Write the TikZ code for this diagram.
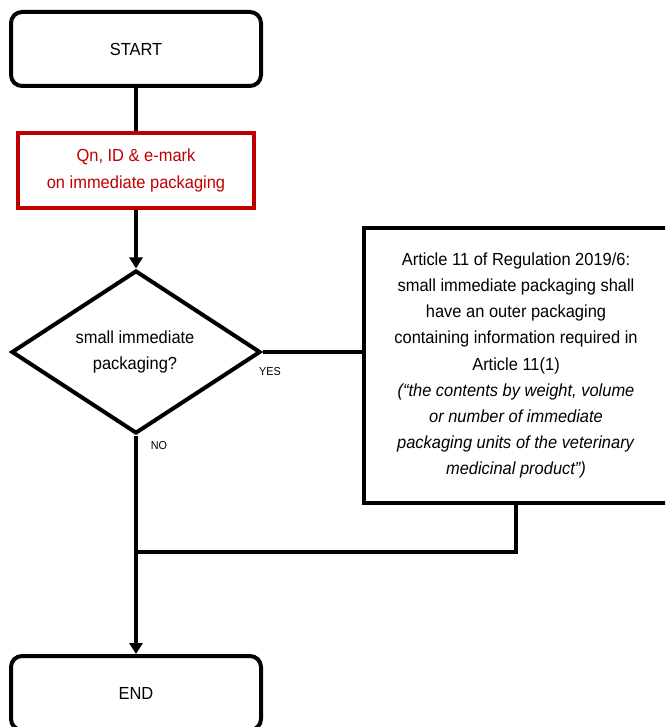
\documentclass[tikz,border=0pt]{standalone}
\usepackage{fontspec}
\setmainfont{Liberation Sans}[FakeStretch=0.94]
\usetikzlibrary{shapes.geometric,arrows.meta}
\definecolor{darkred}{HTML}{C00000}
\begin{document}
\begin{tikzpicture}[x=1pt,y=-1pt,
  every node/.style={font=\fontsize{17.5}{26.2}\selectfont, align=center, inner sep=0pt},
  term/.style={draw, line width=4pt, rounded corners=11pt, minimum width=250pt, minimum height=74pt},
  redbox/.style={draw=darkred, line width=4pt, text=darkred, minimum width=236pt, minimum height=75pt},
  decision/.style={draw, line width=4pt, diamond, aspect=1.53, minimum width=249pt, minimum height=163pt},
  infobox/.style={draw, line width=4pt, minimum width=304pt, minimum height=275pt},
  conn/.style={line width=4pt},
  arr/.style={conn, -{Triangle[width=13pt,length=11pt]}},
  lbl/.style={font=\fontsize{11.5}{13}\selectfont}
]
\useasboundingbox (0,0) rectangle (665,727);
\clip (0,0) rectangle (665,727);
\node[term] (start) at (136,49) {START};
\node[redbox] (red) at (136,170.5) {Qn, ID \& e-mark\\on immediate packaging};
\node[decision] (dia) at (136,352) {};
\node at (135,352) {small immediate\\packaging?};
\node[infobox] (art) at (516,365.5) {Article 11 of Regulation 2019/6:\\small immediate packaging shall\\have an outer packaging\\containing information required in\\Article 11(1)\\\textit{(“the contents by weight, volume}\\\textit{or number of immediate}\\\textit{packaging units of the veterinary}\\\textit{medicinal product”)}};
\node[term] (end) at (136,693) {END};
\coordinate (j) at (136,552);
\draw[conn] (start) -- (red);
\draw[arr] (red) -- (dia);
\draw[conn] (dia.east) -- (dia.east -| art.west);
\draw[conn] (art.south) |- (j);
\draw[arr] (dia.south) -- (end.north);
\node[lbl] (yes) at (270,372) {YES};
\node[lbl] (no) at (159,446) {NO};
\end{tikzpicture}
\end{document}
